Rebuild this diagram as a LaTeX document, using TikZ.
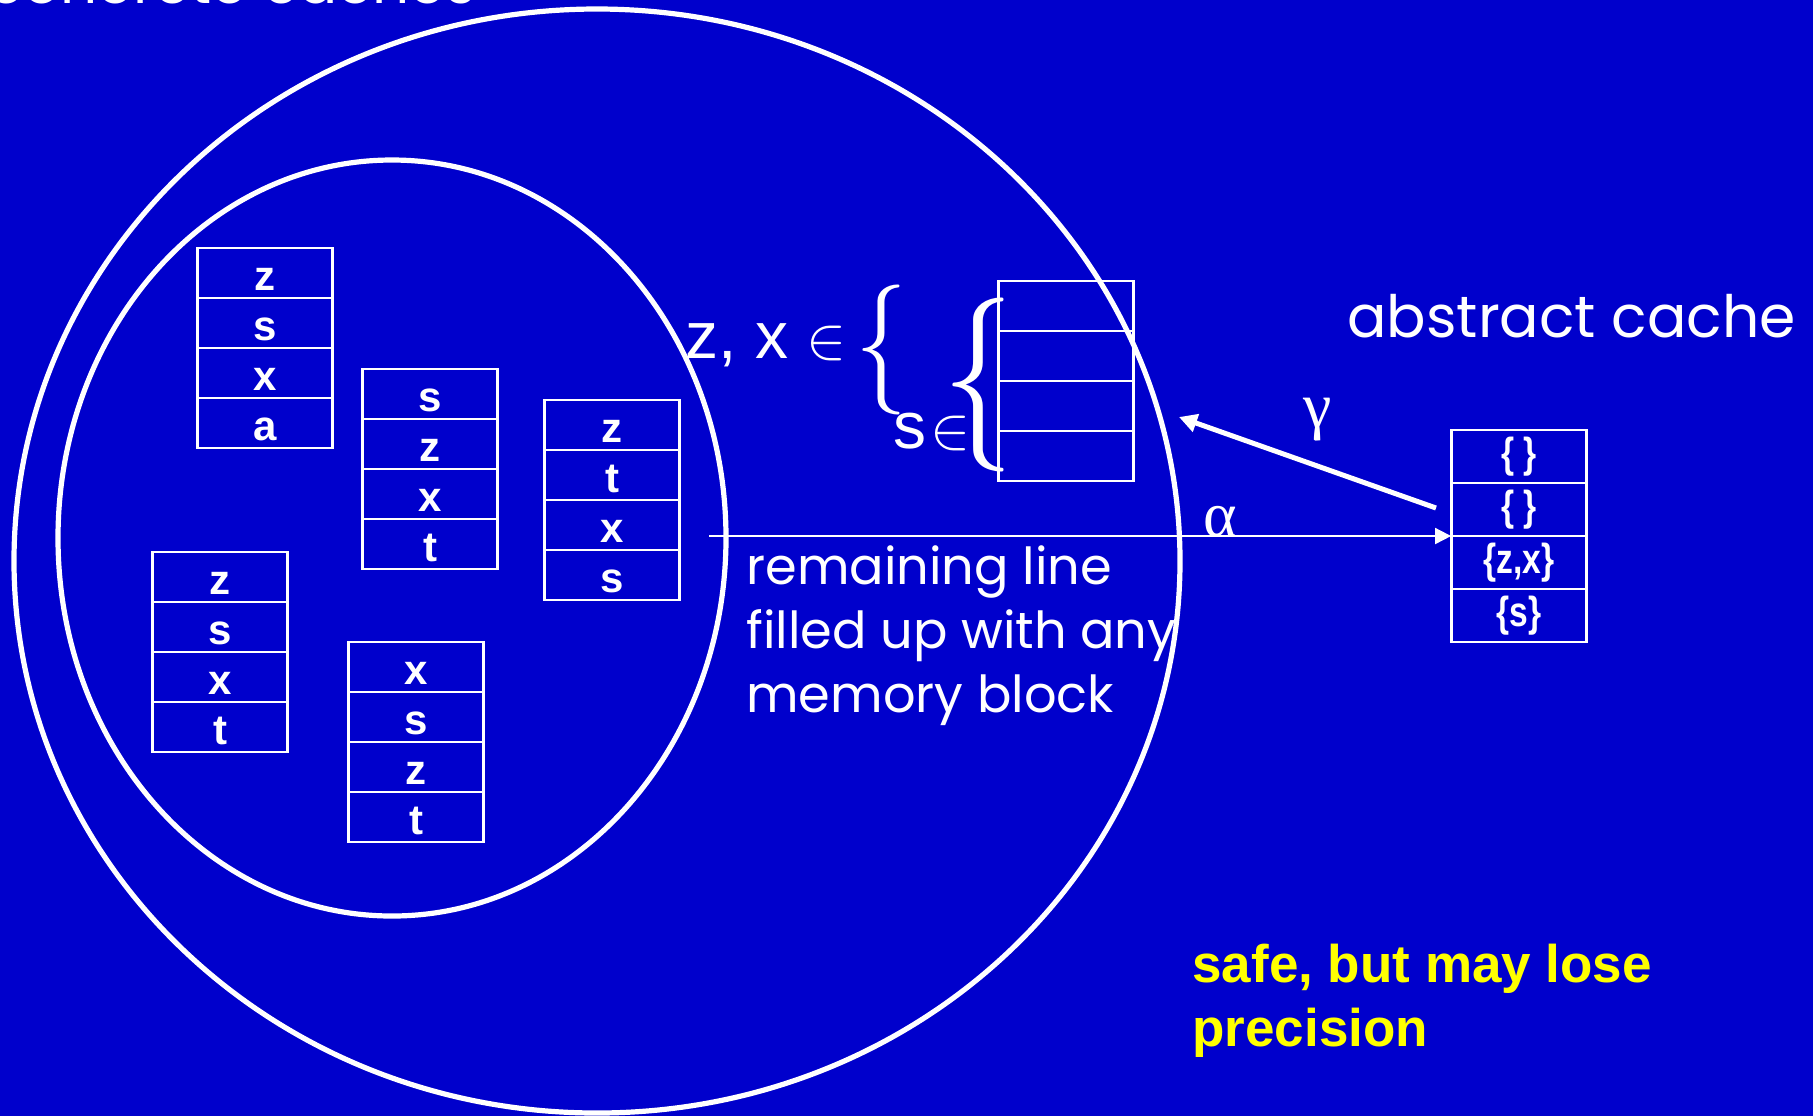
\documentclass[tikz,border=0pt]{standalone}
\usepackage{graphicx}
\usepackage{fontspec}
\setmainfont{Liberation Sans}
\newfontfamily\handfont{Poppins}
\newfontfamily\greekfont{Liberation Serif}
\usetikzlibrary{arrows.meta,positioning,fit}
\definecolor{slblue}{HTML}{0000CC}
\definecolor{slyellow}{HTML}{FFFF00}
\newcommand{\bigin}{\scalebox{3}{\normalsize$\in$}}
\tikzset{
  ring/.style   = {draw=white, line width=2.6pt},
  cell/.style   = {rectangle, draw=white, line width=1.4pt, minimum width=67.5pt,
                   minimum height=25pt, inner sep=0pt, outer sep=0pt, text=white,
                   font=\fontsize{21}{21}\selectfont\bfseries, text height=17pt, text depth=0pt},
  acell/.style  = {cell, minimum height=26.5pt, text height=11pt},
  hand/.style   = {text=white, font=\handfont\fontsize{25.5}{32}\selectfont, inner sep=0pt, align=left},
  note/.style   = {text=slyellow, font=\fontsize{26.5}{32}\selectfont\bfseries, inner sep=0pt, align=left},
  greek/.style  = {text=white, inner sep=0pt, font=\greekfont\fontsize{32}{32}\selectfont},
  absarr/.style = {-{Triangle[length=8pt,width=8pt]}, draw=white, line width=0.9pt},
  conarr/.style = {-{Triangle[length=9pt,width=9pt]}, draw=white, line width=2.5pt},
}

\begin{document}
\begin{tikzpicture}[x=0.5pt,y=-0.5pt]
  \useasboundingbox (0,0) rectangle (1813,1116);
  \fill[slblue] (0,0) rectangle (1813,1116);
  \clip (0,0) rectangle (1813,1116);

  \draw[ring] (597,561) ellipse [x radius=291.5pt, y radius=276pt];
  \draw[ring] (392,538) ellipse [x radius=167pt, y radius=189pt];

  \node[hand, font=\handfont\fontsize{29}{29}\selectfont, anchor=base west] (conc) at (-12,3) {concrete caches};

  \foreach \tab/\x/\y/\ra/\rb/\rc/\rd in {t1/265/248/z/s/x/a, t2/430/369/s/z/x/t,
      t3/612/400/z/t/x/s, t4/220/552/z/s/x/t, t5/416/642/x/s/z/t}{
    \foreach \r/\lab in {0/\ra,1/\rb,2/\rc,3/\rd}{
      \node[cell] (\tab\r) at (\x,\y+25+\r*50) {\lab};
    }
  }

  \node[cell] (m0) at (1066,306) {};
  \foreach \r [count=\p from 0] in {1,2,3}{
    \node[cell, below=0pt of m\p] (m\r) {};
  }

  \node[anchor=base west, inner sep=0pt, text=white, font=\fontsize{33}{33}\selectfont] (zx) at (685,358)
    {z, x\hspace{9pt}\bigin};
  \node[inner sep=0pt, text=white] (lbr) at (881,350) {\resizebox*{26pt}{65pt}{$\{$}};
  \node[anchor=base west, inner sep=0pt, text=white, font=\fontsize{33}{33}\selectfont] (sin) at (893,448)
    {s\hspace{2pt}\bigin};
  \node[inner sep=0pt, text=white] (rbr) at (978,385) {\resizebox*{36pt}{87pt}{$\{$}};

  \node[acell] (a0) at (1519,456.5) {\scalebox{0.8}[1]{\{\ \}}};
  \node[acell, below=0pt of a0] (a1) {\scalebox{0.8}[1]{\{\ \}}};
  \node[acell, below=0pt of a1] (a2) {\scalebox{0.8}[1]{\{z,x\}}};
  \node[acell, below=0pt of a2] (a3) {\scalebox{0.8}[1]{\{s\}}};
  \node[fit=(a0)(a3), inner sep=0pt] (abs) {};

  \node[hand, font=\handfont\fontsize{29.2}{29.2}\selectfont, anchor=base west] (abscap) at (1347,337) {abstract cache};

  \coordinate (astart) at (709,536);
  \draw[absarr] (astart) -- (abs.west);
  \node[greek] (alab) at (1220,522) {α};

  \coordinate (gfrom) at (1436,508);
  \coordinate (gto) at (1179,417);
  \draw[conarr] (gfrom) -- (gto);
  \node[greek] (glab) at (1318,420) {γ};

  \node[hand, anchor=base west] (fill) at (746,712) {remaining line\\filled up with any\\memory block};
  \node[note, anchor=base west] (safe) at (1192,1046) {safe, but may lose\\precision};
\end{tikzpicture}
\end{document}
